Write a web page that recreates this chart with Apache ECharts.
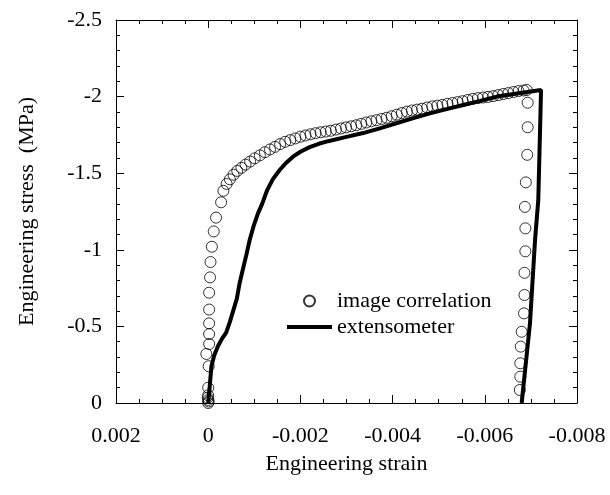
<!DOCTYPE html>
<html>
<head>
<meta charset="utf-8">
<script src="https://cdn.jsdelivr.net/npm/echarts@6/dist/echarts.min.js"></script>
<style>html,body{margin:0;padding:0;background:#fff;}#c{width:610px;height:495px;}</style>
</head>
<body>
<div id="c"></div>
<script>
// Image correlation (open circles): strain, stress (MPa)
const corrStrain = [0, -0.00001, 0, 0.00001, 0, 0, -0.00001, 0.00004, -0.00002, -0.00002, -0.00002, -0.00002, -0.00002, -0.00004, -0.00005, -0.00008, -0.00012, -0.00017,
  -0.00028, -0.00033, -0.00040, -0.00047, -0.00055, -0.00063, -0.00072, -0.00081, -0.00091, -0.00101, -0.00112, -0.00123, -0.00134, -0.00145, -0.00156, -0.00167,
  -0.00178, -0.00189, -0.00200, -0.00211, -0.00222, -0.00233, -0.00244, -0.00255, -0.00266, -0.00277, -0.00288, -0.00299, -0.00310, -0.00321, -0.00332, -0.00343,
  -0.00354, -0.00365, -0.00376, -0.00387, -0.00398, -0.00409, -0.00420, -0.00431, -0.00442, -0.00453, -0.00464, -0.00475, -0.00486, -0.00497, -0.00508, -0.00519,
  -0.00530, -0.00541, -0.00552, -0.00563, -0.00574, -0.00585, -0.00596, -0.00607, -0.00618, -0.00629, -0.00640, -0.00651, -0.00662, -0.00673, -0.00684, -0.00691,
  -0.00693, -0.00693, -0.00692, -0.00689, -0.00687, -0.00688, -0.00688, -0.00686, -0.00686, -0.00685, -0.00680, -0.00678, -0.00677, -0.00677, -0.00676];
const corrStress = [0, -0.01, -0.02, -0.035, -0.05, -0.10, -0.24, -0.32, -0.385, -0.45, -0.52, -0.61, -0.72, -0.82, -0.92, -1.02, -1.12, -1.21,
  -1.31, -1.385, -1.43, -1.46, -1.49, -1.515, -1.535, -1.556, -1.576, -1.597, -1.616, -1.637, -1.655, -1.672, -1.69, -1.705,
  -1.716, -1.727, -1.738, -1.746, -1.754, -1.761, -1.767, -1.772, -1.777, -1.785, -1.792, -1.799, -1.806, -1.813, -1.822, -1.831,
  -1.839, -1.846, -1.854, -1.862, -1.872, -1.882, -1.893, -1.902, -1.909, -1.915, -1.921, -1.929, -1.936, -1.941, -1.946, -1.953,
  -1.958, -1.964, -1.97, -1.978, -1.985, -1.99, -1.994, -1.998, -2.003, -2.01, -2.017, -2.023, -2.03, -2.036, -2.04, -2.043,
  -1.96, -1.80, -1.62, -1.44, -1.28, -1.14, -0.99, -0.85, -0.705, -0.585, -0.465, -0.368, -0.259, -0.172, -0.085];

// Extensometer (solid line): strain, stress (MPa)
const extStrain = [0, -0.00003, -0.00007, -0.00013, -0.00021, -0.00030, -0.00039, -0.00047, -0.00054, -0.00062, -0.00068, -0.00075, -0.00083, -0.00090,
  -0.00099, -0.00108, -0.00117, -0.00128, -0.00140, -0.00155, -0.00170, -0.00184, -0.00200, -0.00220, -0.00240, -0.00260, -0.00300, -0.00336,
  -0.00372, -0.00408, -0.00445, -0.00481, -0.00517, -0.00553, -0.00590, -0.00626, -0.00670, -0.00722, -0.00720, -0.00716, -0.00709, -0.00698, -0.00680];
const extStress = [0, -0.10, -0.24, -0.31, -0.37, -0.42, -0.46, -0.53, -0.60, -0.68, -0.78, -0.87, -0.97, -1.064,
  -1.16, -1.238, -1.30, -1.39, -1.46, -1.521, -1.57, -1.608, -1.64, -1.670, -1.692, -1.709, -1.737, -1.762,
  -1.793, -1.826, -1.86, -1.891, -1.918, -1.945, -1.972, -2.0, -2.02, -2.043, -1.80, -1.325, -1.064, -0.52, 0];

const seriesNames = ['image correlation', 'extensometer'];
const xTitle = 'Engineering strain';
const yTitle = 'Engineering stress  (MPa)';

const FONT = 'Liberation Serif';
const corrData = corrStrain.map((x, i) => [x, corrStress[i]]);
const extData = extStrain.map((x, i) => [x, extStress[i]]);

const fmtX = v => { const r = Math.round(v * 1000) / 1000; return r === 0 ? '0' : String(r); };
const fmtY = v => { const r = Math.round(v * 10) / 10; return r === 0 ? '0' : String(r); };

function xAxisCfg(pos, main) {
  return {
    type: 'value', position: pos, min: -0.008, max: 0.002, interval: 0.002, inverse: true,
    axisLine: { show: true, onZero: false, lineStyle: { color: '#000', width: 1 } },
    axisTick: { show: true, inside: true, length: 8, lineStyle: { color: '#000', width: 1 } },
    minorTick: { show: true, splitNumber: 4, length: 4, lineStyle: { color: '#000', width: 1 } },
    splitLine: { show: false }, minorSplitLine: { show: false },
    axisLabel: { show: main, margin: 22, color: '#000', fontFamily: FONT, fontSize: 22, formatter: fmtX, hideOverlap: false },
    name: main ? xTitle : '', nameLocation: 'middle', nameGap: 50,
    nameTextStyle: { color: '#000', fontFamily: FONT, fontSize: 22 }
  };
}
function yAxisCfg(pos, main) {
  return {
    type: 'value', position: pos, min: -2.5, max: 0, interval: 0.5, inverse: true,
    axisLine: { show: true, onZero: false, lineStyle: { color: '#000', width: 1 } },
    axisTick: { show: true, inside: true, length: 8, lineStyle: { color: '#000', width: 1 } },
    minorTick: { show: true, splitNumber: 5, length: 4, lineStyle: { color: '#000', width: 1 } },
    splitLine: { show: false }, minorSplitLine: { show: false },
    axisLabel: { show: main, margin: 14, color: '#000', fontFamily: FONT, fontSize: 22, formatter: fmtY, hideOverlap: false },
    name: main ? yTitle : '', nameLocation: 'middle', nameGap: 78, nameRotate: 90,
    nameTextStyle: { color: '#000', fontFamily: FONT, fontSize: 22 }
  };
}

const chart = echarts.init(document.getElementById('c'), null, { renderer: 'canvas' });
chart.setOption({
  backgroundColor: '#fff',
  animation: false,
  grid: { left: 116, right: 33, top: 20, bottom: 92, containLabel: false },
  xAxis: [xAxisCfg('bottom', true), xAxisCfg('top', false)],
  yAxis: [yAxisCfg('left', true), yAxisCfg('right', false)],
  legend: {
    orient: 'vertical', left: 287, top: 290, padding: 0, itemWidth: 45, itemHeight: 11, itemGap: 4,
    data: [
      { name: seriesNames[0], icon: 'circle' },
      { name: seriesNames[1], icon: 'path://M0,0 L45,0 L45,4 L0,4 Z', itemStyle: { color: '#000', borderWidth: 0 } }
    ],
    textStyle: { color: '#000', fontFamily: FONT, fontSize: 22 },
    selectedMode: false
  },
  series: [
    {
      name: seriesNames[0], type: 'scatter', data: corrData, symbol: 'circle', symbolSize: 11,
      itemStyle: { color: 'rgba(0,0,0,0)', borderColor: '#000', borderWidth: 1 },
      xAxisIndex: 0, yAxisIndex: 0, z: 2
    },
    {
      name: seriesNames[1], type: 'line', data: extData, symbol: 'none', showSymbol: false, smooth: false,
      lineStyle: { color: '#000', width: 4 }, itemStyle: { color: '#000' },
      xAxisIndex: 0, yAxisIndex: 0, z: 3
    }
  ]
});
</script>
</body>
</html>
